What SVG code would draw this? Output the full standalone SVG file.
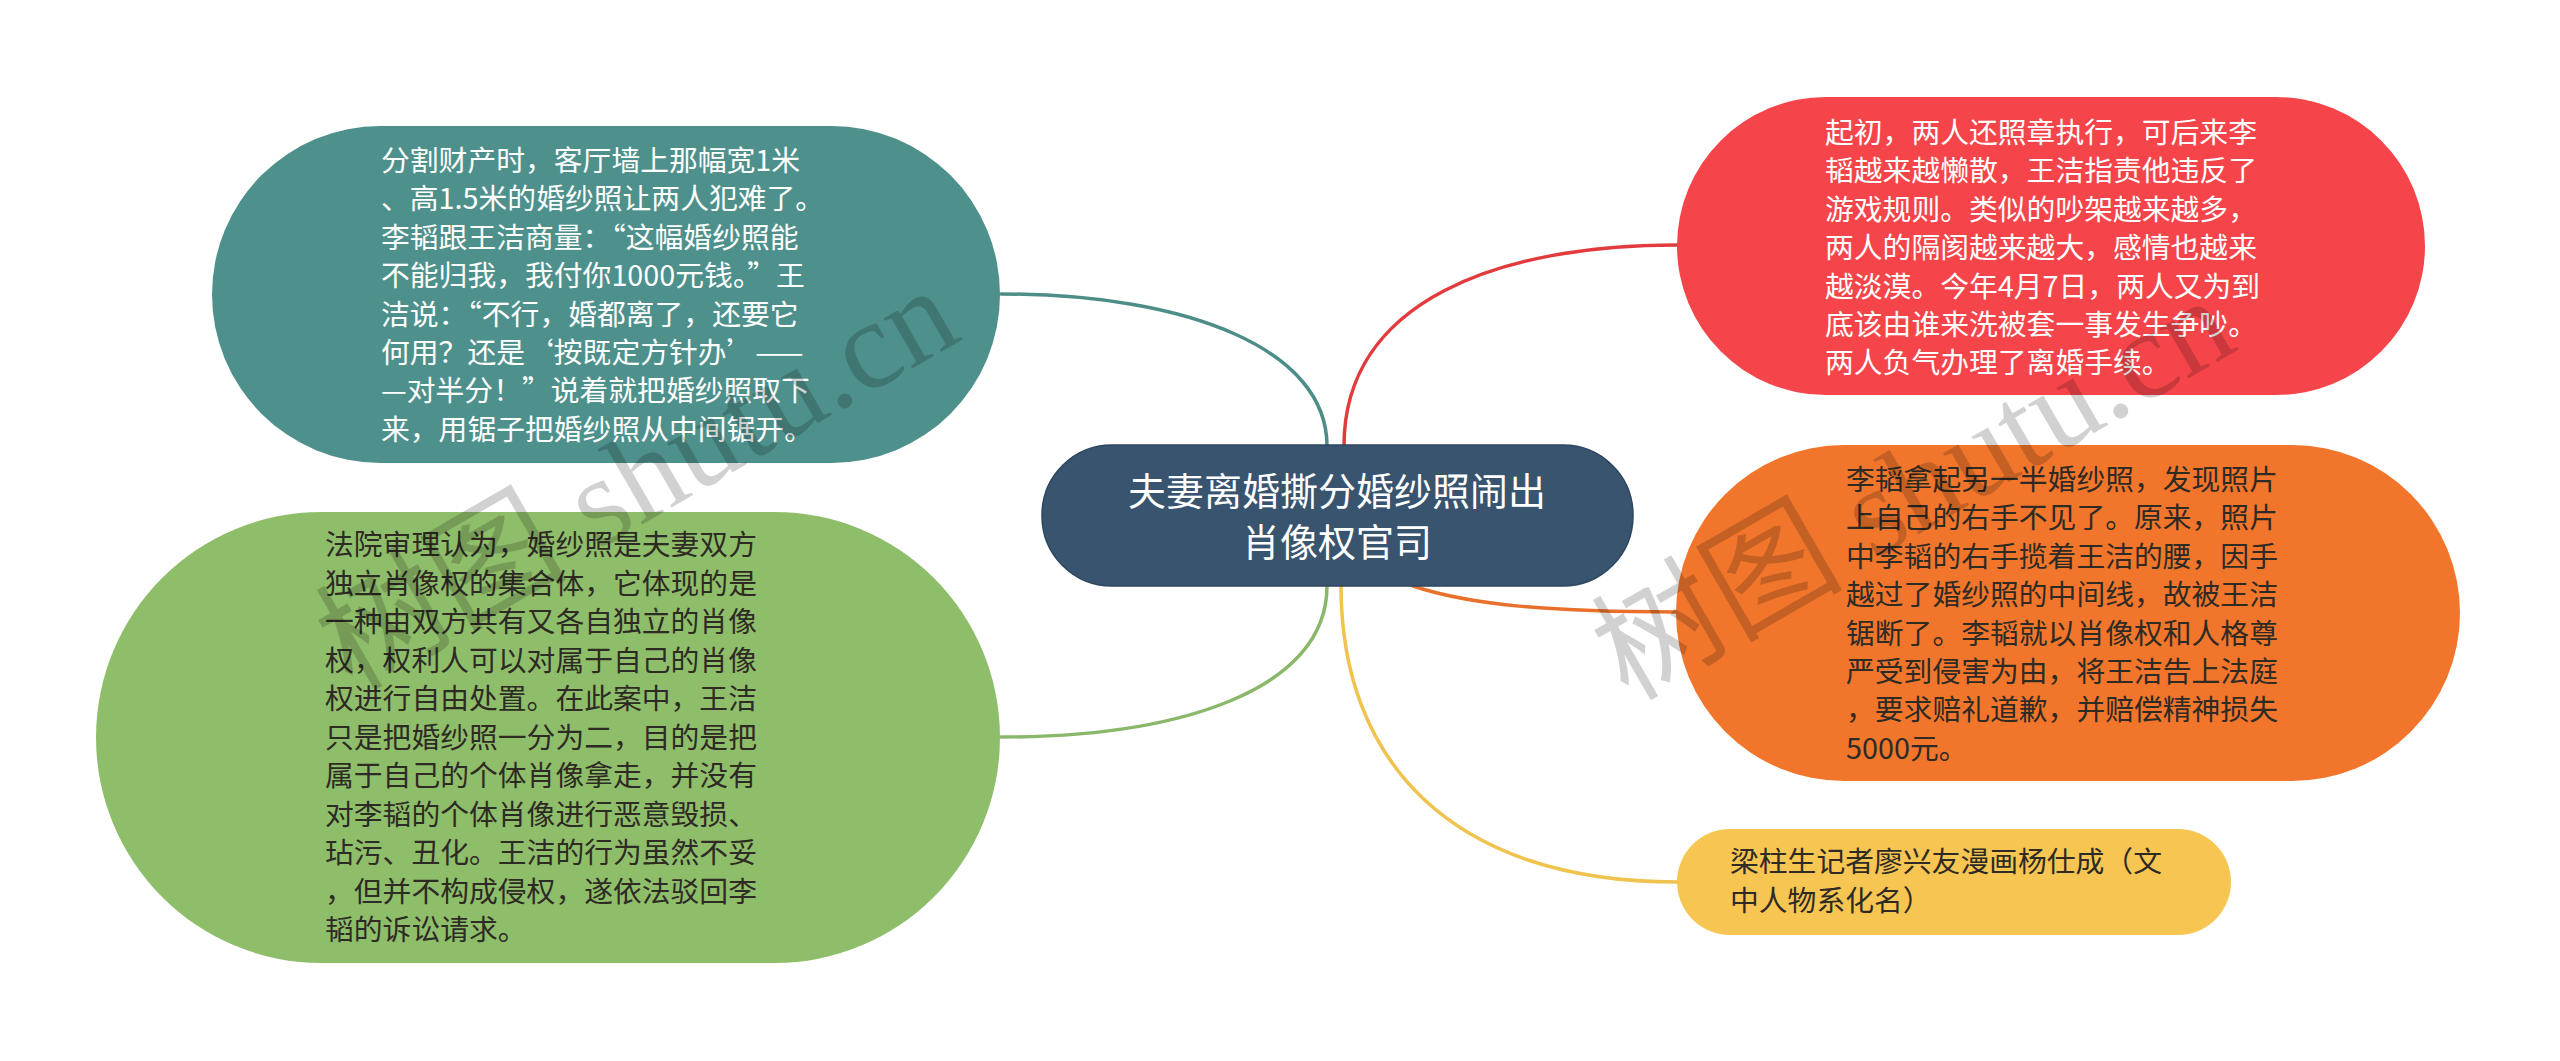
<svg xmlns="http://www.w3.org/2000/svg" width="2560" height="1061" viewBox="0 0 2560 1061">
<style>
.t{font-family:"Microsoft YaHei","Noto Sans CJK SC","Noto Sans",sans-serif;font-size:28.8px}
.w{fill:#ffffff}
.d{fill:#2e2a24}
.c{stroke-width:3.5;fill:none;stroke-linecap:round}
.wm{font-family:"Liberation Serif","Noto Sans CJK SC",serif;font-size:126px;fill:#000000;fill-opacity:0.18}
</style>
<rect width="2560" height="1061" fill="#ffffff"/>
<g id="connectors">
<path class="c" stroke="#4d8d88" d="M1327,446 C1327,350 1190,294 1001,294"/>
<path class="c" stroke="#e23b3e" d="M1344,446 C1344,300 1500,245 1677,245"/>
<path class="c" stroke="#e8702b" d="M1413,586 C1470,605 1550,612 1677,612"/>
<path class="c" stroke="#8ab86a" d="M1327,586 C1327,690 1180,737 1001,737"/>
<path class="c" stroke="#f0c24e" d="M1341,586 C1341,760 1450,882 1677,882"/>
</g>
<g id="center">
<rect x="1042" y="445" width="591" height="141" rx="70" fill="#38546f" stroke="#2c4560" stroke-width="1.5"/>
<text class="w" font-family="Microsoft YaHei,Noto Sans CJK SC,sans-serif" font-size="38" text-anchor="middle"><tspan x="1337" y="505">夫妻离婚撕分婚纱照闹出</tspan><tspan x="1337" y="556">肖像权官司</tspan></text>
</g>
<g id="node-teal">
<rect x="212" y="126" width="788" height="337" rx="168.5" fill="#4e918c"/>
<text class="t w"><tspan x="381" y="171">分割财产时，客厅墙上那幅宽1米</tspan><tspan x="381" y="209.4">、高1.5米的婚纱照让两人犯难了。</tspan><tspan x="381" y="247.8">李韬跟王洁商量：“这幅婚纱照能</tspan><tspan x="381" y="286.2">不能归我，我付你1000元钱。”王</tspan><tspan x="381" y="324.6">洁说：“不行，婚都离了，还要它</tspan><tspan x="381" y="363">何用？还是‘按既定方针办’——</tspan><tspan x="381" y="401.4">—对半分！”说着就把婚纱照取下</tspan><tspan x="381" y="439.8">来，用锯子把婚纱照从中间锯开。</tspan></text>
</g>
<g id="node-green">
<rect x="96" y="512" width="904" height="451" rx="225.5" fill="#8fbe6b"/>
<text class="t d"><tspan x="325" y="555">法院审理认为，婚纱照是夫妻双方</tspan><tspan x="325" y="593.5">独立肖像权的集合体，它体现的是</tspan><tspan x="325" y="632">一种由双方共有又各自独立的肖像</tspan><tspan x="325" y="670.5">权，权利人可以对属于自己的肖像</tspan><tspan x="325" y="709">权进行自由处置。在此案中，王洁</tspan><tspan x="325" y="747.5">只是把婚纱照一分为二，目的是把</tspan><tspan x="325" y="786">属于自己的个体肖像拿走，并没有</tspan><tspan x="325" y="824.5">对李韬的个体肖像进行恶意毁损、</tspan><tspan x="325" y="863">玷污、丑化。王洁的行为虽然不妥</tspan><tspan x="325" y="901.5">，但并不构成侵权，遂依法驳回李</tspan><tspan x="325" y="940">韬的诉讼请求。</tspan></text>
</g>
<g id="node-red">
<rect x="1677" y="97" width="748" height="298" rx="149" fill="#f6454a"/>
<text class="t w"><tspan x="1825" y="143">起初，两人还照章执行，可后来李</tspan><tspan x="1825" y="181.4">韬越来越懒散，王洁指责他违反了</tspan><tspan x="1825" y="219.8">游戏规则。类似的吵架越来越多，</tspan><tspan x="1825" y="258.2">两人的隔阂越来越大，感情也越来</tspan><tspan x="1825" y="296.6">越淡漠。今年4月7日，两人又为到</tspan><tspan x="1825" y="335">底该由谁来洗被套一事发生争吵。</tspan><tspan x="1825" y="373.4">两人负气办理了离婚手续。</tspan></text>
</g>
<g id="node-orange">
<rect x="1676" y="445" width="784" height="336" rx="168" fill="#f1762c"/>
<text class="t d"><tspan x="1846" y="490">李韬拿起另一半婚纱照，发现照片</tspan><tspan x="1846" y="528.4">上自己的右手不见了。原来，照片</tspan><tspan x="1846" y="566.8">中李韬的右手揽着王洁的腰，因手</tspan><tspan x="1846" y="605.2">越过了婚纱照的中间线，故被王洁</tspan><tspan x="1846" y="643.6">锯断了。李韬就以肖像权和人格尊</tspan><tspan x="1846" y="682">严受到侵害为由，将王洁告上法庭</tspan><tspan x="1846" y="720.4">，要求赔礼道歉，并赔偿精神损失</tspan><tspan x="1846" y="758.8">5000元。</tspan></text>
</g>
<g id="node-yellow">
<rect x="1677" y="829" width="554" height="106" rx="53" fill="#f7c552"/>
<text class="t d"><tspan x="1730" y="872">梁柱生记者廖兴友漫画杨仕成（文</tspan><tspan x="1730" y="911">中人物系化名）</tspan></text>
</g>
<g id="watermark">
<text class="wm" transform="translate(352,692) rotate(-30)">树图 shutu.cn</text>
<text class="wm" transform="translate(1628,702) rotate(-30)">树图 shutu.cn</text>
</g>
</svg>
